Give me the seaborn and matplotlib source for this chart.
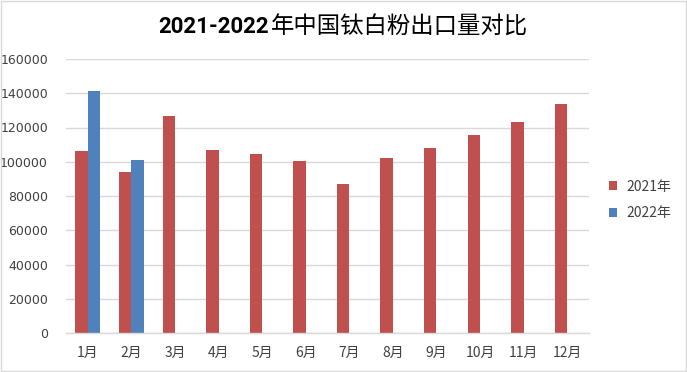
import matplotlib
matplotlib.use("Agg")
import matplotlib.pyplot as plt
import seaborn as sns
import pandas as pd
import numpy as np
from matplotlib.patches import Rectangle

months = ["1月", "2月", "3月", "4月", "5月", "6月", "7月", "8月", "9月", "10月", "11月", "12月"]
series_names = ["2021年", "2022年"]
values_2021 = [106300, 94000, 126700, 106900, 104500, 100400, 87000, 102200, 108000, 115600, 123200, 133700]
values_2022 = [141300, 101000, np.nan, np.nan, np.nan, np.nan, np.nan, np.nan, np.nan, np.nan, np.nan, np.nan]
y_ticks = [0, 20000, 40000, 60000, 80000, 100000, 120000, 140000, 160000]
title_num = "2021-2022"
title_cn = "年中国钛白粉出口量对比"

df = pd.DataFrame({
    "month": months * 2,
    "series": [series_names[0]] * 12 + [series_names[1]] * 12,
    "value": values_2021 + values_2022,
})

sns.set_theme(style="white")
plt.rcParams['font.family'] = ['Noto Sans CJK SC', 'DejaVu Sans']

W, H = 687, 372
fig = plt.figure(figsize=(W / 100, H / 100), dpi=100)
ax = fig.add_axes([66 / W, 1 - 333 / H, (589 - 66) / W, (333 - 59) / H])

palette = {series_names[0]: "#C0504D", series_names[1]: "#4F81BD"}
sns.barplot(data=df, x="month", y="value", hue="series", order=months,
            hue_order=series_names, palette=palette, width=0.57,
            saturation=1, ax=ax, legend=True, linewidth=0)

ax.set_xlim(-0.5, 11.5)
ax.set_ylim(0, 160000)
ax.set_yticks(y_ticks)
ax.set_yticklabels([str(v) for v in y_ticks], fontsize=9, color="#404040",
                   family=['DejaVu Sans'])
ax.tick_params(axis='x', labelsize=10, colors="#404040", length=0, pad=9)
ax.tick_params(axis='y', length=0, pad=13)
ax.set_xlabel("")
ax.set_ylabel("")
ax.grid(axis='y', color="#D9D9D9", linewidth=1)
ax.set_axisbelow(True)
for s in ["top", "right", "left"]:
    ax.spines[s].set_visible(False)
ax.spines["bottom"].set_color("#D9D9D9")
ax.spines["bottom"].set_linewidth(1)

h, l = ax.get_legend_handles_labels()
ax.get_legend().remove()
fig.legend(h, l, loc="center left", bbox_to_anchor=(596 / W, 1 - 200 / H),
           frameon=False, fontsize=10, handlelength=0.6, handleheight=0.6,
           handletextpad=0.7, labelspacing=0.9, labelcolor="#404040")

# Title: bold digits, regular CJK characters
ty = 1 - 27 / H
t1 = fig.text(158 / W, ty, title_num, ha="left", va="center", fontsize=16,
              fontweight="bold", color="black", family=['Roboto', 'DejaVu Sans'])
fig.canvas.draw()
r = fig.canvas.get_renderer()
bb = t1.get_window_extent(r)
x2 = bb.x1 + 2
t2 = fig.text(x2 / W, ty, title_cn, ha="left", va="center", fontsize=17,
              color="black", family=['Noto Sans CJK SC', 'DejaVu Sans'])
w2 = t2.get_window_extent(r).width
target = 528 - x2
t2.set_fontsize(17 * target / w2)

fig.patches.append(Rectangle((0.001, 0.002), 0.997, 0.996, transform=fig.transFigure,
                             fill=False, edgecolor="#D9D9D9", linewidth=1))

fig.savefig("out.png", dpi=100)
